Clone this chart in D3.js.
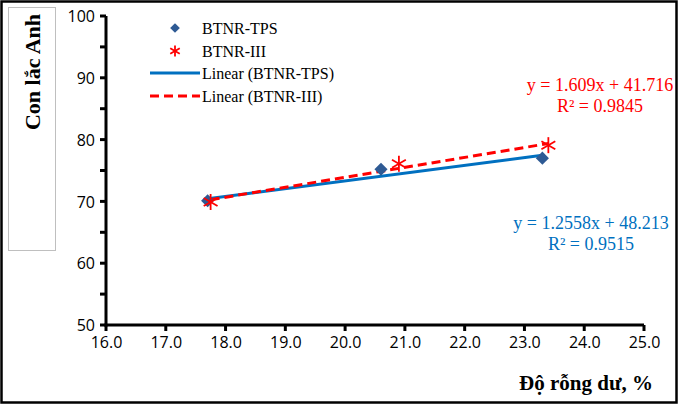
<!DOCTYPE html>
<html>
<head>
<meta charset="utf-8">
<script src="https://cdn.jsdelivr.net/npm/d3@7"></script>
<style>
  body { margin: 0; background: #fff; }
  svg { display: block; }
</style>
</head>
<body>
<svg id="chart" width="680" height="405"></svg>
<script>
// series
const tpsX = [17.7, 20.6, 23.3];
const tpsY = [70.1, 75.2, 77.0];
const iiiX = [17.75, 20.9, 23.4];
const iiiY = [69.9, 76.1, 79.1];
// trend lines printed on the chart
const tpsFit = { slope: 1.2558, icpt: 48.213, eq: "y = 1.2558x + 48.213", r2: "R² = 0.9515" };
const iiiFit = { slope: 1.609, icpt: 41.716, eq: "y = 1.609x + 41.716", r2: "R² = 0.9845" };
const xTicks = [16, 17, 18, 19, 20, 21, 22, 23, 24, 25];
const yTicks = [50, 60, 70, 80, 90, 100];
const yMinor = [55, 65, 75, 85, 95];

const svg = d3.select('#chart');
const serif = '"Liberation Serif", "Times New Roman", serif';
const sans = '"Open Sans", "Liberation Sans", sans-serif';

// outer frame
svg.append('rect').attr('x', 1.5).attr('y', 1.5).attr('width', 675).attr('height', 401)
  .attr('fill', '#fff').attr('stroke', '#000').attr('stroke-width', 2.5);

let x = d3.scaleLinear().domain([16, 25]).range([106, 644]);
let y = d3.scaleLinear().domain([50, 100]).range([325, 16]);

// y axis title box
svg.append('rect').attr('x', 8.5).attr('y', 7.5).attr('width', 47).attr('height', 243)
  .attr('fill', 'none').attr('stroke', '#bfbfbf').attr('stroke-width', 1);
svg.append('text')
  .attr('transform', 'translate(40,72) rotate(-90)')
  .attr('text-anchor', 'middle')
  .style('font-family', serif).style('font-size', '22px').style('font-weight', 'bold')
  .text('Con lắc Anh');

// axes: labels from d3.axis, heavy lines drawn by hand from the scales
let yAxis = svg.append('g').attr('transform', 'translate(106,0)')
  .call(d3.axisLeft(y).tickValues(yTicks).tickSize(0).tickPadding(11).tickFormat(d3.format('d')));
let xAxis = svg.append('g').attr('transform', 'translate(0,325)')
  .call(d3.axisBottom(x).tickValues(xTicks).tickSize(0).tickPadding(12).tickFormat(d3.format('.1f')));
svg.selectAll('.domain').remove();
svg.selectAll('.tick line').remove();
svg.selectAll('.tick text').style('font-family', sans).style('font-size', '16px').style('fill', '#000');
yAxis.selectAll('.tick text').attr('dy', '0.35em');

const ax = svg.append('g').attr('stroke', '#000').attr('stroke-width', 3);
ax.append('line').attr('x1', x(16)).attr('x2', x(16)).attr('y1', y(100)).attr('y2', y(50) + 1.5);
ax.append('line').attr('x1', x(16) - 1.5).attr('x2', x(25)).attr('y1', y(50)).attr('y2', y(50));
ax.selectAll('.yt').data(yTicks.concat(yMinor)).join('line').attr('class', 'yt')
  .attr('x1', x(16) - 6).attr('x2', x(16)).attr('y1', d => y(d)).attr('y2', d => y(d));
ax.selectAll('.xt').data(xTicks).join('line').attr('class', 'xt')
  .attr('x1', d => x(d)).attr('x2', d => x(d)).attr('y1', y(50)).attr('y2', y(50) + 6);

// x axis title
svg.append('text').attr('x', 653).attr('y', 390).attr('text-anchor', 'end')
  .style('font-family', serif).style('font-size', '21px').style('font-weight', 'bold')
  .text('Độ rỗng dư, %');

// trend lines, drawn over the data range
function trend(xs, fit, color, dash) {
  let ext = d3.extent(xs);
  svg.append('line')
    .attr('x1', x(ext[0])).attr('y1', y(fit.slope * ext[0] + fit.icpt))
    .attr('x2', x(ext[1])).attr('y2', y(fit.slope * ext[1] + fit.icpt))
    .attr('stroke', color).attr('stroke-width', 3)
    .attr('stroke-dasharray', dash);
}
trend(tpsX, tpsFit, '#0070c0', null);
trend(iiiX, iiiFit, '#ff0000', '9,5');

// markers
const diamond = d3.symbol().type(d3.symbolDiamond2).size(110);
function star(g, cx, cy, r) {
  // six-armed asterisk
  for (let a = 0; a < 3; a++) {
    let t = Math.PI / 2 + a * Math.PI / 3;
    g.append('line')
      .attr('x1', cx + r * Math.cos(t)).attr('y1', cy + r * Math.sin(t))
      .attr('x2', cx - r * Math.cos(t)).attr('y2', cy - r * Math.sin(t))
      .attr('stroke', '#ff0000').attr('stroke-width', 1.8);
  }
}
svg.append('g').selectAll('path').data(tpsX).join('path')
  .attr('d', diamond)
  .attr('transform', (d, i) => `translate(${x(d)},${y(tpsY[i])})`)
  .attr('fill', '#2e5a94');
let stars = svg.append('g');
iiiX.forEach((d, i) => star(stars, x(d), y(iiiY[i]), 8));

// equations
function eqText(cx, by, fit, color) {
  [fit.eq, fit.r2].forEach((t, i) => {
    svg.append('text').attr('x', cx).attr('y', by + i * 21).attr('text-anchor', 'middle')
      .style('font-family', serif).style('font-size', '18px').attr('fill', color).text(t);
  });
}
eqText(600, 91, iiiFit, '#ff0000');
eqText(591, 229, tpsFit, '#0070c0');

// legend
const legend = svg.append('g');
const lgItems = ['BTNR-TPS', 'BTNR-III', 'Linear (BTNR-TPS)', 'Linear (BTNR-III)'];
const lgY = [28, 51, 73, 96];
legend.append('path').attr('d', d3.symbol().type(d3.symbolDiamond2).size(60))
  .attr('transform', `translate(175,${lgY[0]})`).attr('fill', '#2e5a94');
star(legend, 175, lgY[1], 5.5);
legend.append('line').attr('x1', 150).attr('x2', 200).attr('y1', lgY[2]).attr('y2', lgY[2])
  .attr('stroke', '#0070c0').attr('stroke-width', 3);
legend.append('line').attr('x1', 150).attr('x2', 200).attr('y1', lgY[3]).attr('y2', lgY[3])
  .attr('stroke', '#ff0000').attr('stroke-width', 3).attr('stroke-dasharray', '9,5');
lgItems.forEach((t, i) => {
  legend.append('text').attr('x', 202).attr('y', lgY[i]).attr('dy', '0.35em')
    .style('font-family', serif).style('font-size', '16px').attr('fill', '#000').text(t);
});
</script>
</body>
</html>
